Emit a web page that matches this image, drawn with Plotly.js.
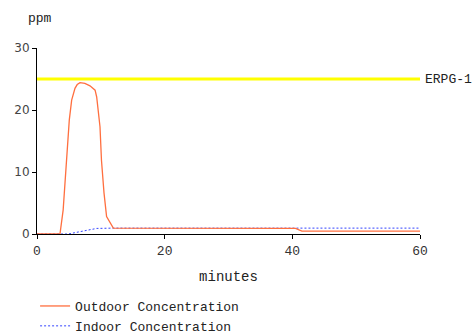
<!DOCTYPE html>
<html><head><meta charset="utf-8">
<script src="https://cdn.plot.ly/plotly-3.0.1.min.js"></script>
<style>body{margin:0;background:#fff}#c{width:474px;height:334px}</style>
</head><body><div id="c"></div>
<script>
const outdoorX = [0, 3.6, 4.1, 4.65, 5.06, 5.43, 5.95, 6.3, 6.74, 7.5, 8.3, 9.1, 9.35, 9.87, 10.1, 10.5, 10.9, 11.96, 40.5, 41.5, 60];
const outdoorY = [0, 0, 3.9, 11.9, 18.4, 21.6, 23.5, 24.1, 24.4, 24.3, 23.9, 23.2, 22.1, 17.3, 11.9, 6.6, 2.8, 0.95, 0.9, 0.45, 0.45];
const indoorX = [0, 4.9, 6.7, 9.35, 12, 60];
const indoorY = [0, 0, 0.37, 0.9, 0.95, 0.95];
const erpgX = [0, 60];
const erpgY = [25, 25];
const erpgLabel = "ERPG-1";
const xTicks = [0, 20, 40, 60];
const yTicks = [0, 10, 20, 30];

const mono = "Liberation Mono, Courier New, monospace";
const data = [
  {x: erpgX, y: erpgY, mode: "lines", line: {color: "#FFFF00", width: 3}, showlegend: false, hoverinfo: "skip"},
  {x: indoorX, y: indoorY, mode: "lines", name: "Indoor Concentration", legendrank: 2,
   line: {color: "#3344FF", width: 1, dash: "2px,2px"}},
  {x: outdoorX, y: outdoorY, mode: "lines", name: "Outdoor Concentration", legendrank: 1,
   line: {color: "#FF6F3F", width: 1.3}}
];
const layout = {
  width: 474, height: 334,
  margin: {l: 37, r: 54, t: 48, b: 100, autoexpand: false},
  paper_bgcolor: "#fff", plot_bgcolor: "#fff",
  font: {family: mono, size: 13, color: "#222"},
  xaxis: {range: [0, 60], tickvals: xTicks, showgrid: false, zeroline: false,
    showline: true, linecolor: "#000", linewidth: 1, ticks: "outside", ticklen: 4, tickcolor: "#000",
    tickfont: {family: mono, size: 13, color: "#333"},
    title: {text: "minutes", font: {family: mono, size: 14, color: "#222"}, standoff: 13}},
  yaxis: {range: [0, 30], tickvals: yTicks, showgrid: false, zeroline: false,
    showline: true, linecolor: "#000", linewidth: 1, ticks: "outside", ticklen: 4, tickcolor: "#000",
    tickfont: {family: "DejaVu Sans, sans-serif", size: 12, color: "#444"}},
  showlegend: true,
  legend: {x: -0.005, xanchor: "left", y: -0.3065, yanchor: "top",
    bgcolor: "rgba(0,0,0,0)", itemwidth: 30,
    font: {family: mono, size: 13, color: "#222"}, tracegroupgap: 0},
  annotations: [
    {text: "ppm", xref: "paper", yref: "paper", x: -0.03, y: 1.16, xanchor: "left", yanchor: "middle",
     showarrow: false, font: {family: mono, size: 13, color: "#222"}},
    {text: erpgLabel, xref: "x", yref: "y", x: erpgX[1], y: erpgY[1], xanchor: "left", yanchor: "middle",
     xshift: 3, showarrow: false, font: {family: mono, size: 13, color: "#222"}}
  ]
};
Plotly.newPlot("c", data, layout, {staticPlot: true, displayModeBar: false});
</script></body></html>
